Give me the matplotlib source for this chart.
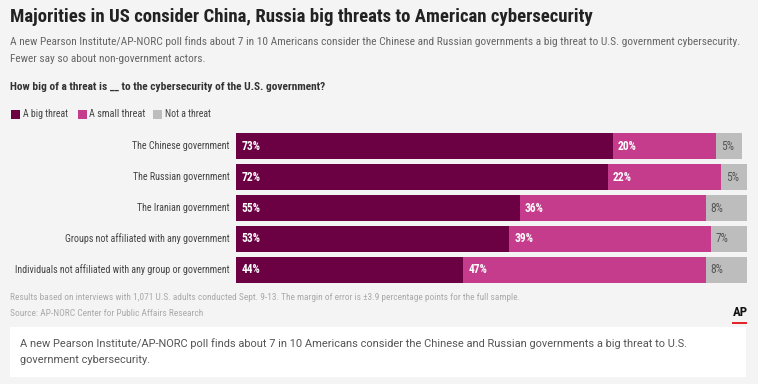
import matplotlib
matplotlib.use("Agg")
import matplotlib.pyplot as plt
from matplotlib.patches import Rectangle
from matplotlib import font_manager

categories = ["The Chinese government", "The Russian government", "The Iranian government",
              "Groups not affiliated with any government",
              "Individuals not affiliated with any group or government"]
big = [73, 72, 55, 53, 44]
small = [20, 22, 36, 39, 47]
notthreat = [5, 5, 8, 7, 8]
series_names = ["A big threat", "A small threat", "Not a threat"]

colors = ["#6b0042", "#c43c8b", "#bdbdbd"]
text_colors = ["white", "white", "#555555"]

names = {f.name for f in font_manager.fontManager.ttflist}
NARROW = ["DejaVu Sans"]
STRETCH = "normal"
for cand in ["Roboto Condensed", "Open Sans Condensed", "Liberation Sans Narrow", "Arial Narrow"]:
    if cand in names:
        NARROW = [cand, "DejaVu Sans"]
        break
else:
    if "Lato" in names:
        NARROW = ["Lato", "DejaVu Sans"]

W, H = 758, 384
fig = plt.figure(figsize=(W / 100, H / 100), dpi=100)
fig.patch.set_facecolor("#f4f4f4")
renderer = fig.canvas.get_renderer()

def fx(px): return px / W
def fy(py): return 1 - py / H

def fit(t, target):
    for _ in range(3):
        w = t.get_window_extent(renderer).width
        t.set_fontsize(t.get_fontsize() * target / w)
    return t

def txt(x, y, s, size, target=None, **kw):
    kw.setdefault("family", NARROW)
    kw.setdefault("fontstretch", STRETCH)
    kw.setdefault("va", "center")
    t = fig.text(fx(x), fy(y), s, fontsize=size, **kw)
    if target:
        fit(t, target)
    return t

txt(10, 17, "Majorities in US consider China, Russia big threats to American cybersecurity",
    15, 581, fontweight="bold", color="#222222")
txt(10, 42, "A new Pearson Institute/AP-NORC poll finds about 7 in 10 Americans consider the Chinese and Russian governments a big threat to U.S. government cybersecurity.",
    9.2, 724, color="#666666")
txt(10, 59, "Fewer say so about non-government actors.", 9.2, 196, color="#666666")
txt(10, 87, "How big of a threat is __ to the cybersecurity of the U.S. government?",
    9.2, 315, fontweight="bold", color="#333333")

# legend
leg_swatch_x = [11, 78, 153]
leg_text_x = [23, 89, 165]
leg_text_w = [45, 55, 47]
for name, c, sx, tx, tw in zip(series_names, colors, leg_swatch_x, leg_text_x, leg_text_w):
    fig.patches.append(Rectangle((fx(sx), fy(119)), fx(9), 9 / H, transform=fig.transFigure,
                                 facecolor=c, edgecolor="none"))
    txt(tx, 114, name, 8.5, tw, color="#444444")

ax_left, ax_right = 236, 752
ax_top, ax_bot = 133, 283
ax = fig.add_axes([fx(ax_left), fy(ax_bot), fx(ax_right - ax_left), (ax_bot - ax_top) / H])
ax.set_facecolor("none")
ax.set_xlim(0, 100)
bh = 0.845
ax.set_ylim(4 + bh / 2, -bh / 2)
ax.axis("off")

cat_texts = []
for i, cat in enumerate(categories):
    left = 0
    for vals, c, tc in zip([big, small, notthreat], colors, text_colors):
        v = vals[i]
        ax.barh(i, v, left=left, height=bh, color=c, edgecolor="none")
        ax.text(left + 1.0, i, f"{v}%", color=tc, family=NARROW, fontstretch=STRETCH, fontsize=8.3,
                fontweight="bold" if tc == "white" else "normal", va="center", ha="left")
        left += v
    cat_texts.append(ax.text(-1.2, i, cat, ha="right", va="center", family=NARROW,
                             fontstretch=STRETCH, fontsize=8.8, color="#444444"))
fit(cat_texts[-1], 214)
for t in cat_texts:
    t.set_fontsize(cat_texts[-1].get_fontsize())

txt(10, 298, "Results based on interviews with 1,071 U.S. adults conducted Sept. 9-13. The margin of error is \u00b13.9 percentage points for the full sample.",
    7.2, 509, color="#aaaaaa")
txt(10, 314, "Source: AP-NORC Center for Public Affairs Research", 7.2, 193, color="#aaaaaa")
txt(740, 313, "AP", 10, 15, fontweight="bold", color="#111111", ha="center")
fig.patches.append(Rectangle((fx(732), fy(324)), fx(15), 2 / H, transform=fig.transFigure,
                             facecolor="#e3242b", edgecolor="none"))

fig.patches.append(Rectangle((fx(10), fy(377)), fx(736), 50 / H, transform=fig.transFigure,
                             facecolor="white", edgecolor="none"))
BODY = ["Roboto", "DejaVu Sans"]
t1 = txt(20, 344, "A new Pearson Institute/AP-NORC poll finds about 7 in 10 Americans consider the Chinese and Russian governments a big threat to U.S.",
         8.2, 665, family=BODY, fontstretch="normal", color="#555555")
t2 = txt(20, 360, "government cybersecurity.", 8.2, None, family=BODY, fontstretch="normal", color="#555555")
t2.set_fontsize(t1.get_fontsize())

fig.savefig("out.png", dpi=100, facecolor=fig.get_facecolor())
